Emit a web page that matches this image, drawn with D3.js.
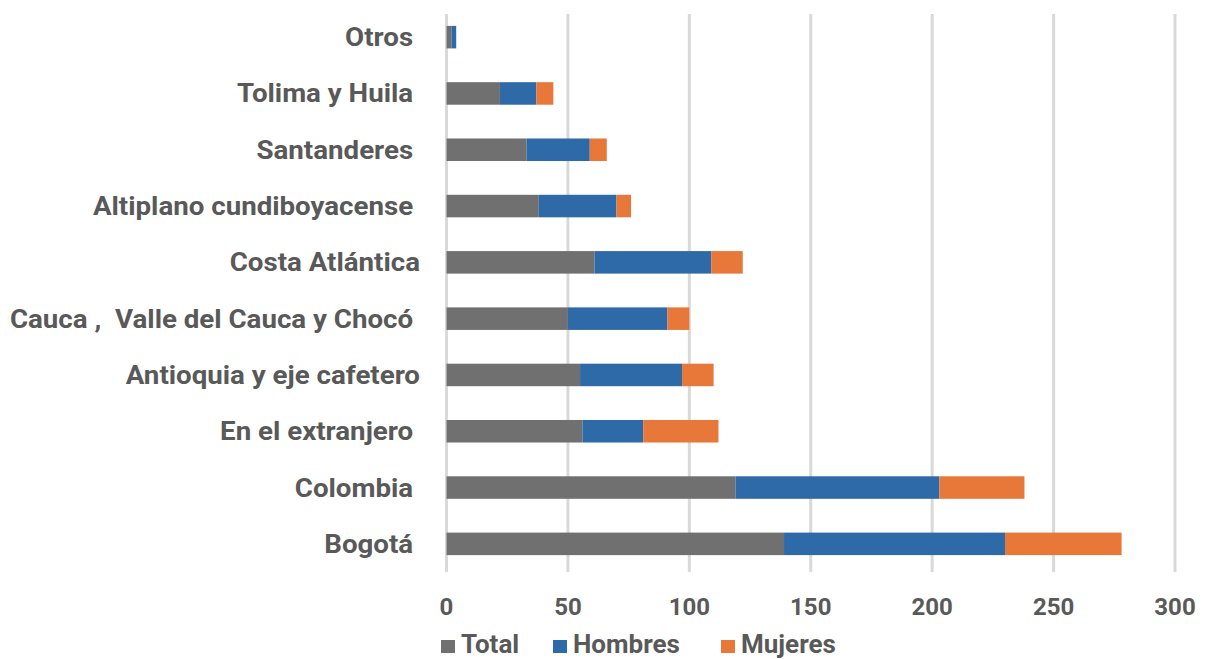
<!DOCTYPE html>
<html>
<head>
<meta charset="utf-8">
<script src="https://cdn.jsdelivr.net/npm/d3@7"></script>
<style>
  body { margin: 0; background: #fff; }
  svg { display: block; font-family: Roboto, "Noto Sans", sans-serif; font-weight: bold; }
  .cat { fill: #595959; font-size: 26px; white-space: pre; }
  .tick-lbl { fill: #595959; font-size: 24px; }
  .legend-lbl { fill: #595959; font-size: 26px; }
  .grid { stroke: #d9d9d9; stroke-width: 3px; }
</style>
</head>
<body>
<svg id="chart"></svg>
<script>
// regions, top to bottom as drawn
const categories = ["Otros ", "Tolima y Huila ", "Santanderes ", "Altiplano cundiboyacense ",
  "Costa Atlántica", "Cauca ,  Valle del Cauca y Chocó ", "Antioquia y eje cafetero",
  "En el extranjero ", "Colombia ", "Bogotá "];
const total   = [2, 22, 33, 38, 61, 50, 55, 56, 119, 139];
const hombres = [2, 15, 26, 32, 48, 41, 42, 25, 84, 91];
const mujeres = [0, 7, 7, 6, 13, 9, 13, 31, 35, 48];
const seriesNames = ["Total", "Hombres", "Mujeres"];
const colors = ["#707070", "#2e6aa8", "#e8773a"];
const xTicks = [0, 50, 100, 150, 200, 250, 300];

const width = 1206, height = 659;
const svg = d3.select("#chart").attr("width", width).attr("height", height);

const x = d3.scaleLinear().domain([0, 300]).range([446.5, 1175]);
const y = d3.scaleBand().domain(categories).range([9, 572]).paddingInner(0.6).paddingOuter(0.3);

// gridlines
svg.append("g").selectAll("line").data(xTicks).join("line")
  .attr("class", "grid")
  .attr("x1", d => x(d)).attr("x2", d => x(d))
  .attr("y1", 14).attr("y2", 572);

// stacked bars
const rows = categories.map((c, i) => ({cat: c, Total: total[i], Hombres: hombres[i], Mujeres: mujeres[i]}));
const stack = d3.stack().keys(seriesNames)(rows);

svg.append("g").selectAll("g").data(stack).join("g")
  .attr("fill", (d, i) => colors[i])
  .selectAll("rect").data(d => d).join("rect")
  .attr("x", d => x(d[0]))
  .attr("width", d => x(d[1]) - x(d[0]))
  .attr("y", d => y(d.data.cat))
  .attr("height", y.bandwidth());

// category labels (the source font is a bit wider than Roboto)
svg.append("g")
  .attr("transform", "translate(420,0) scale(1.065,1)")
  .selectAll("text").data(categories).join("text")
  .attr("class", "cat")
  .attr("x", 0)
  .attr("y", d => y(d) + y.bandwidth() / 2 + 9)
  .attr("text-anchor", "end")
  .text(d => d);

// x tick labels
svg.append("g").selectAll("text").data(xTicks).join("text")
  .attr("class", "tick-lbl")
  .attr("x", d => x(d))
  .attr("y", 615)
  .attr("text-anchor", "middle")
  .text(d => d);

// legend
const legendX = [441, 553, 721];
const lg = svg.append("g").selectAll("g").data(seriesNames).join("g")
  .attr("transform", (d, i) => `translate(${legendX[i]},0)`);
lg.append("rect").attr("x", 0).attr("y", 640).attr("width", 14).attr("height", 13)
  .attr("fill", (d, i) => colors[i]);
lg.append("text").attr("class", "legend-lbl").attr("x", 20).attr("y", 653).text(d => d);
</script>
</body>
</html>
